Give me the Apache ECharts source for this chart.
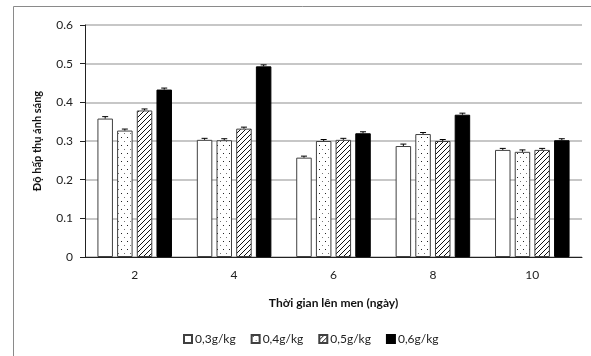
<!DOCTYPE html>
<html><head><meta charset="utf-8">
<script src="https://cdn.jsdelivr.net/npm/echarts@6/dist/echarts.min.js"></script>
<style>html,body{margin:0;padding:0;background:#fff}#c{width:591px;height:356px}</style>
</head><body><div id="c"></div>
<script>
var days = ['2', '4', '6', '8', '10'];
var names = ['0,3g/kg', '0,4g/kg', '0,5g/kg', '0,6g/kg'];
var s03 = [0.358, 0.303, 0.257, 0.287, 0.277];
var s04 = [0.327, 0.302, 0.300, 0.318, 0.272];
var s05 = [0.379, 0.332, 0.303, 0.300, 0.277];
var s06 = [0.433, 0.493, 0.320, 0.368, 0.302];
var e03 = [0.005, 0.002, 0.001, 0.005, 0.002];
var e04 = [0.002, 0.001, 0.002, 0.002, 0.005];
var e05 = [0.003, 0.001, 0.002, 0.002, 0.002];
var e06 = [0.001, 0.001, 0.001, 0.004, 0.002];

function tile(w, h, draw) {
  var c = document.createElement('canvas'); c.width = w; c.height = h;
  var g = c.getContext('2d'); g.fillStyle = '#fff'; g.fillRect(0, 0, w, h); draw(g); return c;
}
var dotTile = tile(6, 8, function (g) {
  g.fillStyle = '#222'; g.fillRect(1, 1, 1, 1);
  g.fillStyle = '#777'; g.fillRect(4, 5, 1, 1);
});
var hatchTile = tile(5, 5, function (g) {
  g.fillStyle = '#111';
  for (var i = 0; i < 5; i++) g.fillRect(i, 4 - i, 1, 1);
});
var fills = ['#ffffff', {image: dotTile, repeat: 'repeat'}, {image: hatchTile, repeat: 'repeat'}, '#000000'];
var vals = [s03, s04, s05, s06];
var errs = [e03, e04, e05, e06];
var GAP = 0.25, BGAP = 0.27;

var series = [];
vals.forEach(function (v, i) {
  series.push({
    name: names[i], type: 'bar', data: v,
    barGap: (BGAP * 100) + '%', barCategoryGap: (GAP * 100) + '%',
    itemStyle: {color: fills[i], borderColor: i === 3 ? '#000' : '#404040', borderWidth: 1},
    z: 2
  });
});
vals.forEach(function (v, i) {
  var data = v.map(function (y, k) { return [k, y, errs[i][k]]; });
  series.push({
    type: 'custom', name: 'err' + i, data: data, z: 5,
    renderItem: function (params, api) {
      var k = api.value(0), y = api.value(1), e = api.value(2);
      var cw = api.size([1, 0])[0];
      var w = cw * (1 - GAP) / (4 + 3 * BGAP);
      var start = -cw * (1 - GAP) / 2;
      var p0 = api.coord([k, y]);
      var p1 = api.coord([k, y + e]);
      var x = p0[0] + start + i * w * (1 + BGAP) + w / 2;
      var top = Math.min(p1[1], p0[1] - 1.5);
      return {type: 'group', children: [
        {type: 'line', shape: {x1: x, y1: p0[1], x2: x, y2: top}, style: {stroke: '#000', lineWidth: 1}},
        {type: 'line', shape: {x1: x - 3, y1: top, x2: x + 3, y2: top}, style: {stroke: '#000', lineWidth: 1}}
      ]};
    }
  });
});

var chart = echarts.init(document.getElementById('c'));
chart.setOption({
  animation: false,
  textStyle: {fontFamily: 'Lato'},
  graphic: [{type: 'rect', shape: {x: 13.5, y: 6.5, width: 700, height: 500}, style: {fill: 'none', stroke: '#8a8a8a', lineWidth: 1}, silent: true}],
  grid: {left: 85, right: 9, top: 25, bottom: 99},
  legend: {
    data: names, bottom: 6, left: 178, icon: 'rect', itemWidth: 8, itemHeight: 8, itemGap: 15,
    textStyle: {fontSize: 12, color: '#222', fontFamily: 'Lato', padding: [0, 0, 0, -2]}
  },
  xAxis: {
    type: 'category', data: days,
    name: 'Thời gian lên men (ngày)', nameLocation: 'middle', nameGap: 40,
    nameTextStyle: {fontWeight: 'bold', fontSize: 12, color: '#111', fontFamily: 'Lato'},
    axisLine: {lineStyle: {color: '#222'}},
    axisTick: {show: false},
    axisLabel: {fontSize: 12, color: '#222', margin: 12}
  },
  yAxis: {
    type: 'value', min: 0, max: 0.6, interval: 0.1,
    name: 'Độ hấp thụ ánh sáng', nameLocation: 'middle', nameGap: 42,
    nameTextStyle: {fontWeight: 'bold', fontSize: 11, color: '#111', fontFamily: 'Lato'},
    axisLine: {show: true, lineStyle: {color: '#222'}},
    axisTick: {show: true, length: 5, lineStyle: {color: '#222'}},
    axisLabel: {fontSize: 12, color: '#222', margin: 12},
    splitLine: {lineStyle: {color: '#b4b4b4', width: 1.5}}
  },
  series: series
});
</script></body></html>
